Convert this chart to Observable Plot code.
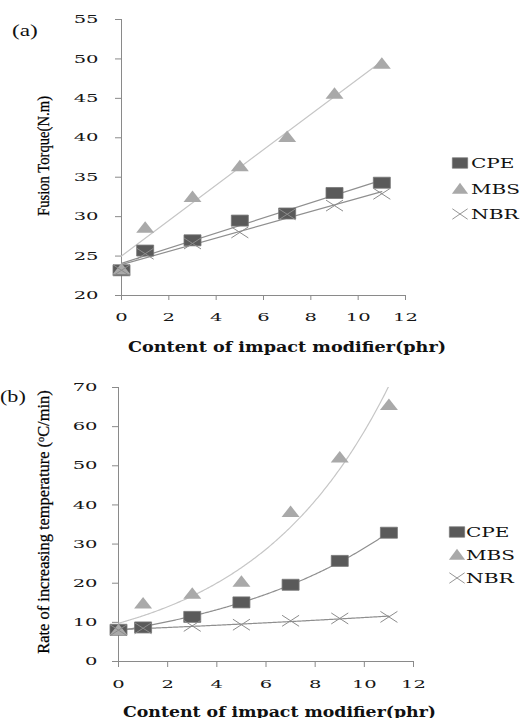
<!DOCTYPE html>
<html><head><meta charset="utf-8">
<script src="https://cdn.jsdelivr.net/npm/d3@7"></script>
<script src="https://cdn.jsdelivr.net/npm/@observablehq/plot@0.6"></script>
<style>
html,body{margin:0;padding:0;background:#fff;}
#root{position:relative;width:522px;height:718px;overflow:hidden;background:#fff;}
.panel{position:absolute;left:0;}
.panel svg{overflow:visible;}
.lab{position:absolute;white-space:nowrap;color:#111;line-height:1;}
.lab sup{font-size:0.62em;vertical-align:0.5em;line-height:0;}
.ytitle{color:#000;-webkit-text-stroke:0.25px #000;}
.icon{position:absolute;}
</style></head><body>
<div id="root"></div>
<script>
// ---------- data ----------
const contents = [0, 1, 3, 5, 7, 9, 11];          // phr
const seriesNames = ["CPE", "MBS", "NBR"];
// (a) Fusion torque (N.m)
const torqueCPE = [23.2, 25.7, 27.0, 29.5, 30.4, 33.0, 34.3];
const torqueMBS = [23.3, 28.6, 32.5, 36.4, 40.1, 45.6, 49.4];
const torqueNBR = [23.2, 25.3, 26.6, 28.0, 30.3, 31.4, 32.9];
// (b) Rate of increasing temperature (oC/min)
const rateCPE = [8.1, 8.7, 11.4, 15.1, 19.6, 25.7, 32.9];
const rateMBS = [8.0, 14.8, 17.3, 20.4, 38.2, 52.1, 65.5];
const rateNBR = [8.0, 8.5, 9.1, 9.4, 10.4, 11.0, 11.4];
// axes
const xDomain = [0, 12];
const xTicks = [0, 2, 4, 6, 8, 10, 12];
const yDomainA = [20, 55];
const yTicksA = [20, 25, 30, 35, 40, 45, 50, 55];
const yDomainB = [0, 70];
const yTicksB = [0, 10, 20, 30, 40, 50, 60, 70];
const xTitle = "Content of impact modifier(phr)";
const yTitleA = "Fusion Torque(N.m)";
const yTitleB = "Rate of increasing temperature (<sup>o</sup>C/min)";

// ---------- styles ----------
const axisColor = "#8a8a8a";
const sty = {
  CPE: {fill: "#5a5a5a", stroke: "#777", line: "#8f8f8f"},
  MBS: {fill: "#a9a9a9", stroke: "none", line: "#c6c6c6"},
  NBR: {fill: "none", stroke: "#8c8c8c", line: "#8f8f8f"}
};
const shapes = {
  CPE: {draw(c) { c.rect(-8.5, -5.5, 17, 11); }},
  MBS: {draw(c) { c.moveTo(0, -6.5); c.lineTo(9, 5); c.lineTo(-9, 5); c.closePath(); }},
  NBR: {draw(c) { c.moveTo(-8.5, -5.5); c.lineTo(8.5, 5.5); c.moveTo(8.5, -5.5); c.lineTo(-8.5, 5.5); }}
};

const root = document.getElementById("root");

function toRows(arrs) {
  return seriesNames.flatMap((s, i) => contents.map((x, j) => ({series: s, x, y: arrs[i][j]})));
}

function expFit(xs, ys) {
  const n = xs.length, ly = ys.map(Math.log);
  const mx = d3.mean(xs), my = d3.mean(ly);
  let sxy = 0, sxx = 0;
  for (let i = 0; i < n; i++) { sxy += (xs[i] - mx) * (ly[i] - my); sxx += (xs[i] - mx) ** 2; }
  const b = sxy / sxx, a = Math.exp(my - b * mx);
  return x => a * Math.exp(b * x);
}

function stretchTexts(el, sel, s) {
  el.querySelectorAll(sel).forEach(t => {
    const b = t.getBBox();
    const anchor = getComputedStyle(t).textAnchor;
    const ax = anchor === "end" ? b.x + b.width : anchor === "middle" ? b.x + b.width / 2 : b.x;
    const prev = t.getAttribute("transform") || "";
    t.setAttribute("transform", `${prev} translate(${ax},0) scale(${s},1) translate(${-ax},0)`);
  });
}

function dotMarks(rows) {
  return seriesNames.map(s => Plot.dot(rows, {
    filter: d => d.series === s, x: "x", y: "y", symbol: shapes[s],
    fill: sty[s].fill, stroke: sty[s].stroke, strokeWidth: s === "NBR" ? 1 : 0.8
  }));
}

function axes(yTicks, cfg) {
  return [
    Plot.ruleY([cfg.yDomain[0]], {stroke: axisColor, strokeWidth: 1}),
    Plot.ruleX([xDomain[0]], {stroke: axisColor, strokeWidth: 1}),
    Plot.axisX({ticks: xTicks, tickSize: cfg.xTickSize, tickPadding: cfg.xTickPad, label: null, stroke: axisColor, fill: "#161616"}),
    Plot.axisY({ticks: yTicks, tickSize: 6, tickPadding: cfg.yTickPad, label: null, stroke: axisColor, fill: "#161616"})
  ];
}

function mount(plot, top) {
  const div = document.createElement("div");
  div.className = "panel";
  div.style.top = top + "px";
  div.appendChild(plot);
  root.appendChild(div);
  stretchTexts(plot, 'g[aria-label="x-axis tick label"] text', 1.7);
  stretchTexts(plot, 'g[aria-label="y-axis tick label"] text', 1.7);
}

const baseStyle = {fontFamily: "'DejaVu Serif', serif", fontSize: "11.5px", background: "transparent", color: "#161616", overflow: "visible"};

// ---------- panel (a) ----------
const rowsA = toRows([torqueCPE, torqueMBS, torqueNBR]);
const plotA = Plot.plot({
  width: 440, height: 330,
  marginTop: 19, marginLeft: 121, marginRight: 35, marginBottom: 35,
  style: baseStyle,
  x: {domain: xDomain},
  y: {domain: yDomainA},
  marks: [
    ...axes(yTicksA, {yDomain: yDomainA, xTickSize: 5, xTickPad: 12.5, yTickPad: 17}),
    ...seriesNames.map(s => Plot.linearRegressionY(rowsA, {
      filter: d => d.series === s, x: "x", y: "y", ci: 0, stroke: sty[s].line, strokeWidth: 1.2
    })),
    ...dotMarks(rowsA)
  ]
});
mount(plotA, 0);

// ---------- panel (b) ----------
const rowsB = toRows([rateCPE, rateMBS, rateNBR]);
const fitsB = {CPE: expFit(contents, rateCPE), MBS: expFit(contents, rateMBS), NBR: expFit(contents, rateNBR)};
const xsFine = d3.range(0, 11.0001, 0.05);
const plotB = Plot.plot({
  width: 440, height: 340,
  marginTop: 27, marginLeft: 118, marginRight: 27, marginBottom: 39,
  style: baseStyle,
  x: {domain: xDomain},
  y: {domain: yDomainB},
  marks: [
    ...axes(yTicksB, {yDomain: yDomainB, xTickSize: 6, xTickPad: 12.5, yTickPad: 15}),
    ...seriesNames.map(s => Plot.line(xsFine, {
      x: d => d, y: d => fitsB[s](d), stroke: sty[s].line, strokeWidth: 1.2, clip: true
    })),
    ...dotMarks(rowsB)
  ]
});
mount(plotB, 360);

// ---------- texts ----------
function hText(html, left, cy, font, targetW) {
  const el = document.createElement("div");
  el.className = "lab"; el.style.font = font; el.innerHTML = html;
  root.appendChild(el);
  const w = el.offsetWidth, h = el.offsetHeight;
  el.style.left = left + "px"; el.style.top = (cy - h / 2) + "px";
  el.style.transformOrigin = "0 50%";
  el.style.transform = `scaleX(${targetW / w})`;
  return el;
}
function vText(html, cx, cy, font, targetLen) {
  const el = document.createElement("div");
  el.className = "lab ytitle"; el.style.font = font; el.innerHTML = html;
  root.appendChild(el);
  const w = el.offsetWidth, h = el.offsetHeight;
  el.style.left = (cx - w / 2) + "px"; el.style.top = (cy - h / 2) + "px";
  el.style.transformOrigin = "50% 50%";
  el.style.transform = `rotate(-90deg) scaleX(${targetLen / w})`;
  return el;
}
const serif = "'Liberation Serif', 'Times New Roman', serif";
const wide = "'DejaVu Serif', serif";

hText("(a)", 12, 31, `17px ${serif}`, 26);
hText("(b)", 0, 397, `17px ${serif}`, 26);
vText(yTitleA, 43.5, 155.5, `16px ${serif}`, 120);
vText(yTitleB, 44, 521.5, `17px ${serif}`, 263);
hText(xTitle, 128, 346, `bold 14.5px ${wide}`, 318);
hText(xTitle, 123, 711, `bold 14.5px ${wide}`, 313);

// ---------- legends ----------
function iconSvg(s) {
  const svg = d3.create("svg").attr("width", 20).attr("height", 14);
  const p = d3.symbol().type(shapes[s])();
  svg.append("path").attr("d", p).attr("transform", "translate(10,7) scale(0.9,0.95)")
    .attr("fill", sty[s].fill).attr("stroke", sty[s].stroke).attr("stroke-width", s === "NBR" ? 1 : 0.8);
  return svg.node();
}
function legend(iconLeft, textLeft, centers) {
  const widths = {CPE: 43, MBS: 49, NBR: 48};
  seriesNames.forEach((s, i) => {
    const ic = iconSvg(s);
    ic.classList.add("icon");
    ic.style.left = iconLeft + "px"; ic.style.top = (centers[i] - 7) + "px";
    root.appendChild(ic);
    hText(s, textLeft, centers[i], `13.5px ${wide}`, widths[s]);
  });
}
legend(450, 471, [163.3, 189, 213.5]);
legend(447, 466, [531.7, 555, 578]);
</script>
</body></html>
